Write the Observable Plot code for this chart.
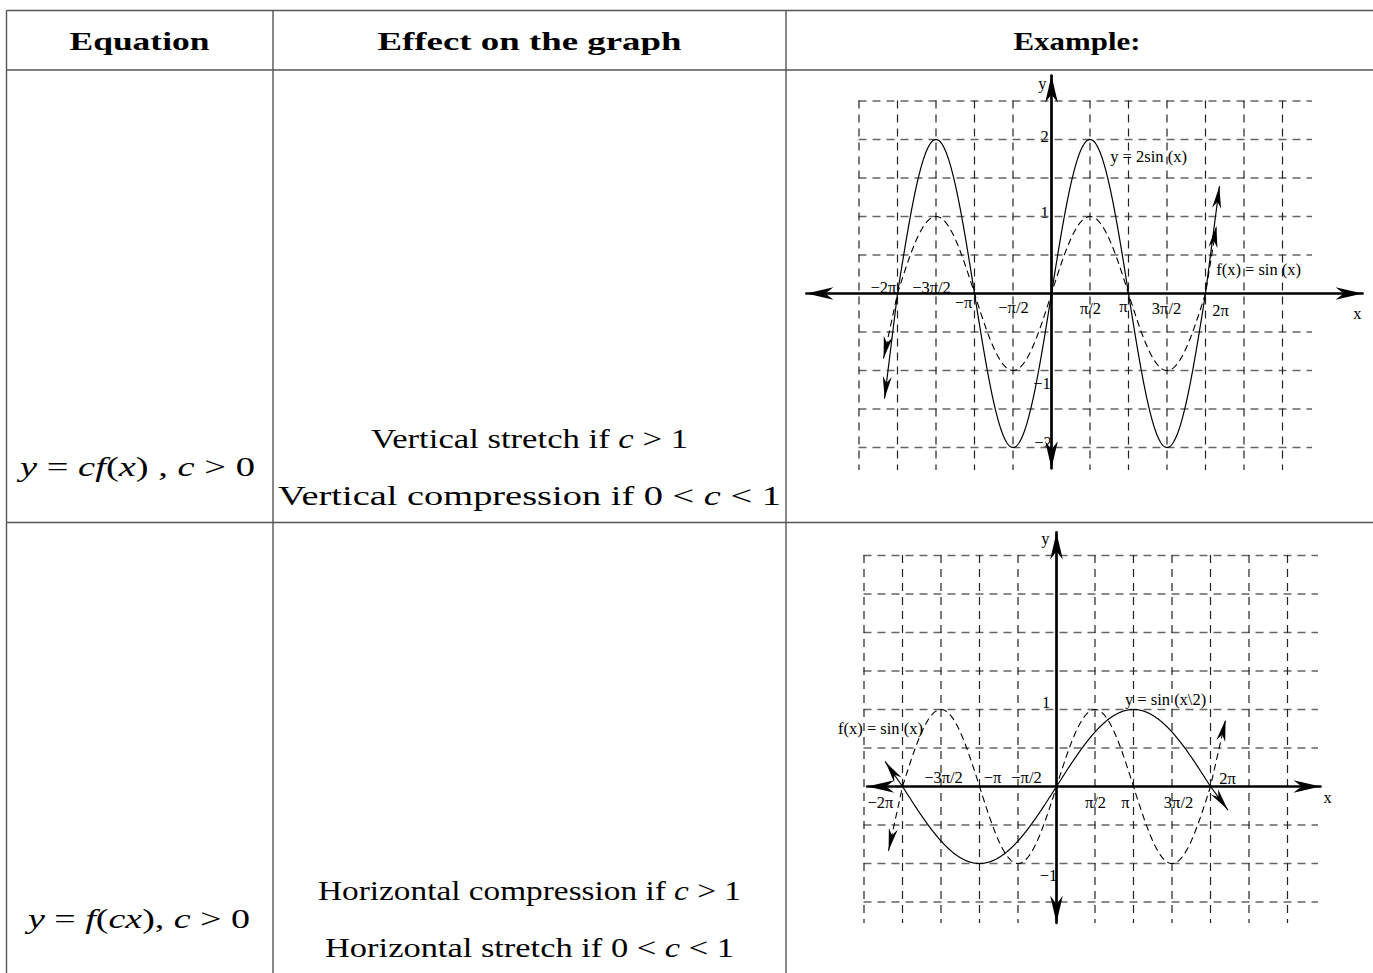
<!DOCTYPE html>
<html><head><meta charset="utf-8">
<script src="https://cdn.jsdelivr.net/npm/d3@7"></script>
<script src="https://cdn.jsdelivr.net/npm/@observablehq/plot@0.6"></script>
<style>
html,body{margin:0;padding:0;background:#fff;}
#page{position:relative;width:1373px;height:973px;overflow:hidden;background:#fff;}
#page > svg{position:absolute;}
</style></head><body><div id="page"></div>
<script>
const PI = Math.PI;

// ---------- table content ----------
const headers = ["Equation", "Effect on the graph", "Example:"];
// segments: [text, italic?]
const equations = [
  [["y",1],[" = ",0],["cf",1],["(",0],["x",1],[") , ",0],["c",1],[" > 0",0]],
  [["y",1],[" = ",0],["f",1],["(",0],["cx",1],["), ",0],["c",1],[" > 0",0]]
];
const effects = [
  [ [["Vertical stretch if ",0],["c",1],[" > 1",0]],
    [["Vertical compression if 0 < ",0],["c",1],[" < 1",0]] ],
  [ [["Horizontal compression if ",0],["c",1],[" > 1",0]],
    [["Horizontal stretch if 0 < ",0],["c",1],[" < 1",0]] ]
];

// ---------- graph content ----------
const xTickLabels = ["−2π","−3π/2","−π","−π/2","π/2","π","3π/2","2π"];
const xTickSteps = [-4,-3,-2,-1,1,2,3,4];          // multiples of π/2
const vGridSteps = [-5,-4,-3,-2,-1,1,2,3,4,5,6];   // multiples of π/2
const yTickLabels1 = ["2","1","−1","−2"];
const yTickValues1 = [2,1,-1,-2];
const yTickLabels2 = ["1","−1"];
const yTickValues2 = [1,-1];
const hGridSteps1 = [-4,-3,-2,-1,1,2,3,4,5];       // multiples of 0.5
const hGridSteps2 = [-3,-2,-1,1,2,3,4,5,6];
const hGridSpan1 = [-5*PI/2, 10.65], hGridSpan2 = [-5*PI/2, 10.69];
const vGridSpan1 = [2.5, -2.3], vGridSpan2 = [3, -1.78];
const xAxisSpan1 = [-10.0, 12.69], yAxisSpan1 = [2.83, -2.27];
const xAxisSpan2 = [-7.72, 10.77], yAxisSpan2 = [3.30, -1.77];
// arrow tips of the curves [left, right] as [x, y]
const solidTips1 = [[-6.81,-1.36],[6.85,1.39]];
const dashedTips1 = [[-6.85,-0.84],[6.73,0.88]];
const solidTips2 = [[-6.98,0.32],[6.98,-0.30]];
const dashedTips2 = [[-6.85,-0.83],[6.90,0.87]];
const fnLabels1 = ["y = 2sin (x)", "f(x) = sin (x)"];
const fnLabelPos1 = [[3.96,1.77],[8.45,0.31]];
const fnLabels2 = ["y = sin (x\\2)", "f(x) = sin (x)"];
const fnLabelPos2 = [[4.45,1.13],[-7.18,0.75]];
const axisNamePos1 = [[-0.37,2.73],[12.48,-0.26]];
const axisNamePos2 = [[-0.45,3.22],[11.06,-0.14]];

// ---------- layout ----------
const page = document.getElementById("page");
const L = {
  hLines:[10.5,70,522.5], vLines:[6.5,273,786], lineColor:"#555",
  headerBaseline:50, headerCenters:[139.5,529.5,1077], headerWidths:[140,304,127],
  effCenter:529.5, eqCenters:[137.5,139],
  effBaselines:[[448,505],[900,957]], effWidths:[[317,503],[423,409]],
  eqBaselines:[476,928], eqWidths:[235,222]
};
const xTickOff1 = [[-14,-6],[-4.5,-6],[-11,9],[0.5,14],[0.5,15],[-5,13],[-0.5,15],[15,17]];
const yTickOff1 = [[-7,-3],[-7,-4],[-9.5,13],[-8.5,-5]];
const xTickOff2 = [[-22,16],[2.5,-9],[13,-9],[8.5,-9],[0.5,16],[-8,16],[6.5,16],[17,-8]];
const yTickOff2 = [[-10.4,-7],[-8,12]];

// ---------- table ----------
const tsvg = d3.create("svg").attr("width",1373).attr("height",973)
  .style("left","0px").style("top","0px");
L.hLines.forEach(y => tsvg.append("line").attr("x1",L.vLines[0]).attr("x2",1373)
  .attr("y1",y).attr("y2",y).attr("stroke",L.lineColor).attr("stroke-width",1.4));
L.vLines.forEach(x => tsvg.append("line").attr("x1",x).attr("x2",x)
  .attr("y1",L.hLines[0]).attr("y2",973).attr("stroke",L.lineColor).attr("stroke-width",1.4));
const serif = "Liberation Serif, Times New Roman, serif";
function addText(segs, cx, baseline, w, size, bold){
  const t = tsvg.append("text").attr("x",cx - w/2).attr("y",baseline)
    .attr("font-family",serif).attr("font-size",size).attr("fill","#000")
    .attr("font-weight", bold ? "bold" : "normal")
    .attr("textLength",w).attr("lengthAdjust","spacingAndGlyphs")
    .style("white-space","pre");
  segs.forEach(([s,it]) => t.append("tspan").attr("font-style", it ? "italic" : "normal").text(s));
}
headers.forEach((h,i) => addText([[h,0]], L.headerCenters[i], L.headerBaseline, L.headerWidths[i], 26, true));
equations.forEach((eq,r) => addText(eq, L.eqCenters[r], L.eqBaselines[r], L.eqWidths[r], 28, false));
effects.forEach((lines,r) => lines.forEach((segs,k) =>
  addText(segs, L.effCenter, L.effBaselines[r][k], L.effWidths[r][k], 28, false)));
page.appendChild(tsvg.node());

// ---------- graphs ----------
function headPath(len, w){ return `M0,0L${-len},${-w}L${-0.7*len},0L${-len},${w}Z`; }
function addMarker(svg, id, len, w){
  const ns = "http://www.w3.org/2000/svg";
  let defs = svg.querySelector("defs");
  if (!defs) { defs = document.createElementNS(ns,"defs"); svg.appendChild(defs); }
  const m = document.createElementNS(ns,"marker");
  m.setAttribute("id", id);
  m.setAttribute("viewBox", `${-len-1} ${-w-1} ${len+2} ${2*w+2}`);
  m.setAttribute("markerWidth", len+2); m.setAttribute("markerHeight", 2*w+2);
  m.setAttribute("refX", 0); m.setAttribute("refY", 0);
  m.setAttribute("markerUnits","userSpaceOnUse");
  m.setAttribute("orient","auto-start-reverse");
  m.setAttribute("overflow","visible");
  const p = document.createElementNS(ns,"path");
  p.setAttribute("d", headPath(len,w)); p.setAttribute("fill","#000"); p.setAttribute("stroke","none");
  m.appendChild(p); defs.appendChild(m);
}

function makeGraph(g){
  const x0 = (g.left - g.ox)/g.pxRad, x1 = (g.left + g.width - g.ox)/g.pxRad;
  const yTop = (g.oy - g.top)/g.pxUnit, yBot = (g.oy - g.top - g.height)/g.pxUnit;
  const curve = (f, tips) => [
    {x:tips[0][0], y:tips[0][1]},
    ...d3.range(-2*PI, 2*PI + 1e-9, PI/240).map(x => ({x, y:f(x)})),
    {x:tips[1][0], y:tips[1][1]}
  ];
  const xt = xTickLabels.map((t,i) => ({t,
    x: xTickSteps[i]*PI/2 + g.xOff[i][0]/g.pxRad, y: -g.xOff[i][1]/g.pxUnit}));
  const yt = g.yLabels.map((t,i) => ({t,
    x: g.yOff[i][0]/g.pxRad, y: g.yValues[i] - g.yOff[i][1]/g.pxUnit}));
  const fl = g.fnLabels.map((t,i) => ({t, x:g.fnPos[i][0], y:g.fnPos[i][1]}));
  const an = ["y","x"].map((t,i) => ({t, x:g.axisPos[i][0], y:g.axisPos[i][1]}));
  const txt = {x:"x", y:"y", text:"t", fontFamily:serif, fontSize:16.5, fill:"#000",
    textAnchor:"middle", lineAnchor:"middle"};
  const svg = Plot.plot({
    width:g.width, height:g.height, margin:0,
    style:{background:"transparent", overflow:"visible"},
    x:{domain:[x0,x1], axis:null}, y:{domain:[yBot,yTop], axis:null},
    marks:[
      Plot.text(xt, txt), Plot.text(yt, txt), Plot.text(fl, txt), Plot.text(an, txt),
      Plot.ruleY(g.hGrid, {y:d => d*0.5, x1:g.hSpan[0], x2:g.hSpan[1],
        stroke:"#666", strokeWidth:1.3, strokeDasharray:"8,6"}),
      Plot.ruleX(vGridSteps, {x:d => d*PI/2, y1:g.vSpan[0], y2:g.vSpan[1],
        stroke:"#222", strokeWidth:1.2, strokeDasharray:"8,6"}),
      Plot.line(curve(g.dashedF, g.dashedTips), {x:"x", y:"y", stroke:"#000",
        strokeWidth:1.1, strokeDasharray:"6,5"}),
      Plot.line(curve(g.solidF, g.solidTips), {x:"x", y:"y", stroke:"#000",
        strokeWidth:1.2}),
      Plot.line([{x:g.xAxis[0],y:0},{x:g.xAxis[1],y:0}], {x:"x", y:"y", stroke:"#000",
        strokeWidth:2.7}),
      Plot.line([{x:0,y:g.yAxis[0]},{x:0,y:g.yAxis[1]}], {x:"x", y:"y", stroke:"#000",
        strokeWidth:2.7})
    ]
  });
  addMarker(svg, g.id+"-axh", 27, 6.3);
  addMarker(svg, g.id+"-cvh", 22, 4.5);
  const lineGroups = svg.querySelectorAll('g[aria-label="line"]');
  lineGroups.forEach((grp, i) => {
    const id = i < 2 ? g.id+"-cvh" : g.id+"-axh";
    grp.querySelectorAll("path").forEach(p => {
      p.setAttribute("marker-start", `url(#${id})`); p.setAttribute("marker-end", `url(#${id})`);
    });
  });
  svg.style.left = g.left + "px"; svg.style.top = g.top + "px"; svg.style.position = "absolute";
  page.appendChild(svg);
}

makeGraph({id:"g1", left:790, top:68, width:583, height:414, ox:1051, oy:293, pxRad:24.51, pxUnit:77,
  xOff:xTickOff1, yOff:yTickOff1, yLabels:yTickLabels1, yValues:yTickValues1,
  fnLabels:fnLabels1, fnPos:fnLabelPos1, axisPos:axisNamePos1,
  hGrid:hGridSteps1, hSpan:hGridSpan1, vSpan:vGridSpan1, xAxis:xAxisSpan1, yAxis:yAxisSpan1,
  solidF:x => 2*Math.sin(x), dashedF:x => Math.sin(x), solidTips:solidTips1, dashedTips:dashedTips1});
makeGraph({id:"g2", left:790, top:525, width:583, height:420, ox:1056, oy:786, pxRad:24.51, pxUnit:77,
  xOff:xTickOff2, yOff:yTickOff2, yLabels:yTickLabels2, yValues:yTickValues2,
  fnLabels:fnLabels2, fnPos:fnLabelPos2, axisPos:axisNamePos2,
  hGrid:hGridSteps2, hSpan:hGridSpan2, vSpan:vGridSpan2, xAxis:xAxisSpan2, yAxis:yAxisSpan2,
  solidF:x => Math.sin(x/2), dashedF:x => Math.sin(x), solidTips:solidTips2, dashedTips:dashedTips2});
</script></body></html>
